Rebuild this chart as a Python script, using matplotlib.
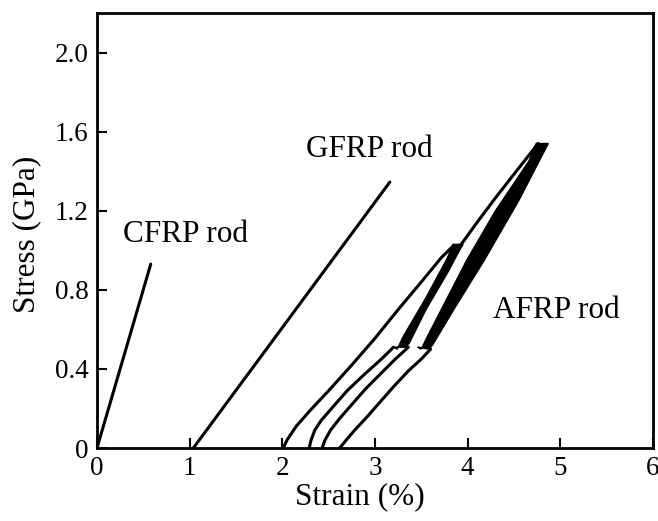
import matplotlib
matplotlib.use("Agg")
import matplotlib.pyplot as plt

# ---- data ----
cfrp_strain = [0.0, 0.58]
cfrp_stress = [0.0, 0.93]

gfrp_strain = [1.04, 3.16]
gfrp_stress = [0.0, 1.345]

# initial loading curve up to the first peak
afrp_a1_strain = [2.01, 2.05, 2.15, 2.30, 2.50, 2.75, 3.00, 3.25, 3.50, 3.72, 3.84]
afrp_a1_stress = [0.00, 0.04, 0.11, 0.19, 0.29, 0.42, 0.555, 0.70, 0.84, 0.965, 1.02]
# continued loading from first peak to second peak
afrp_a2_strain = [3.93, 4.10, 4.30, 4.50, 4.66, 4.76]
afrp_a2_stress = [1.03, 1.14, 1.265, 1.385, 1.48, 1.54]

# unload / reload curves between zero stress and the 0.5 GPa band bottoms
afrp_b_strain = [2.29, 2.31, 2.35, 2.42, 2.55, 2.70, 2.88, 3.07, 3.20]
afrp_b_stress = [0.00, 0.04, 0.09, 0.14, 0.21, 0.29, 0.37, 0.45, 0.51]
afrp_c_strain = [2.43, 2.46, 2.52, 2.62, 2.75, 2.90, 3.07, 3.22, 3.36]
afrp_c_stress = [0.00, 0.04, 0.09, 0.15, 0.22, 0.30, 0.38, 0.45, 0.51]
afrp_d_strain = [2.62, 2.68, 2.78, 2.90, 3.05, 3.20, 3.36, 3.50, 3.60]
afrp_d_stress = [0.00, 0.035, 0.09, 0.15, 0.23, 0.31, 0.39, 0.45, 0.50]

# cyclic bands (filled): left edge up, then right edge down
band1_strain = [3.20, 3.24, 3.30, 3.55, 3.78, 3.84, 3.95, 3.90, 3.80, 3.55, 3.37, 3.33]
band1_stress = [0.51, 0.50, 0.56, 0.76, 0.96, 1.03, 1.03, 0.99, 0.90, 0.70, 0.53, 0.51]
band2_strain = [3.46, 3.50, 3.55, 3.99, 4.30, 4.66, 4.74, 4.87, 4.55, 4.18, 3.85, 3.62, 3.58]
band2_stress = [0.51, 0.50, 0.55, 0.95, 1.20, 1.45, 1.54, 1.54, 1.25, 0.95, 0.70, 0.52, 0.50]

xticks = [0, 1, 2, 3, 4, 5, 6]
yticks = [0, 0.4, 0.8, 1.2, 1.6, 2.0]
ytick_labels = ["0", "0.4", "0.8", "1.2", "1.6", "2.0"]

plt.rcParams['font.family'] = ['Liberation Serif', 'DejaVu Serif']

fig = plt.figure(figsize=(6.58, 5.21), dpi=100)
ax = fig.add_axes([97/658, 1-448/521, (653-97)/658, (448-13)/521])

lw = 2.2
style = dict(color='black', lw=lw, solid_joinstyle='round', solid_capstyle='round')
ax.plot(cfrp_strain, cfrp_stress, **style)
ax.plot(gfrp_strain, gfrp_stress, **style)
ax.plot(afrp_a1_strain, afrp_a1_stress, **style)
ax.plot(afrp_a2_strain, afrp_a2_stress, **style)
ax.plot(afrp_b_strain, afrp_b_stress, **style)
ax.plot(afrp_c_strain, afrp_c_stress, **style)
ax.plot(afrp_d_strain, afrp_d_stress, **style)
ax.fill(band1_strain, band1_stress, color='black', lw=1)
ax.fill(band2_strain, band2_stress, color='black', lw=1)

ax.text(0.28, 1.04, "CFRP rod", fontsize=22.5)
ax.text(2.25, 1.47, "GFRP rod", fontsize=22.5)
ax.text(4.27, 0.66, "AFRP rod", fontsize=22.5)

ax.set_xlim(0, 6)
ax.set_ylim(0, 2.2)
ax.set_xticks(xticks)
ax.set_xticklabels([str(t) for t in xticks])
ax.set_yticks(yticks)
ax.set_yticklabels(ytick_labels)
ax.tick_params(direction='in', length=7, width=1.5, labelsize=19.5, pad=6)
for s in ax.spines.values():
    s.set_linewidth(2)

ax.set_xlabel("Strain (%)", fontsize=22.5)
ax.set_ylabel("Stress (GPa)", fontsize=22.5)
ax.xaxis.set_label_coords(0.473, -0.113)
ax.yaxis.set_label_coords(-0.126, 0.49)
ax.xaxis.label.set_va('center')
ax.yaxis.label.set_va('center')

fig.savefig("out.png", dpi=100)
